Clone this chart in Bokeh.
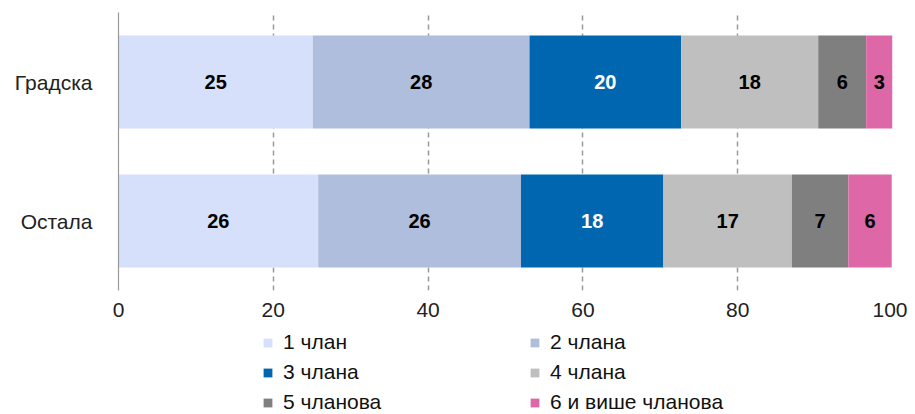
from bokeh.plotting import figure
from bokeh.models import ColumnDataSource, Legend, LegendItem, FactorRange, Range1d, FixedTicker
from bokeh.layouts import column
from bokeh.embed import file_html
from bokeh.resources import INLINE
from bokeh.core.properties import value

# ---- data ----
categories = ["Градска", "Остала"]
series_names = ["1 члан", "2 члана", "3 члана", "4 члана", "5 чланова", "6 и више чланова"]
gradska = [25.1, 28.0, 19.6, 17.7, 6.2, 3.4]
ostala = [25.8, 26.2, 18.4, 16.6, 7.3, 5.6]
x_ticks = [0, 20, 40, 60, 80, 100]

colors = ["#D7E0FA", "#AEBEDC", "#0066AF", "#BFBFBF", "#7F7F7F", "#DE67A8"]
label_colors = ["black", "black", "white", "black", "black", "black"]

FONT = "Liberation Sans"

p = figure(
    width=907, height=321,
    y_range=FactorRange(factors=list(reversed(categories)), range_padding=0),
    x_range=Range1d(0, 100),
    output_backend="svg", toolbar_location=None,
    min_border_left=118, min_border_right=15, min_border_top=12, min_border_bottom=31,
)
p.outline_line_color = None
p.ygrid.grid_line_color = None
p.xgrid.grid_line_color = "#999999"
p.xgrid.grid_line_width = 1.5
p.xgrid.grid_line_dash = "5 4"
p.xgrid.ticker = FixedTicker(ticks=x_ticks)
p.xaxis.ticker = FixedTicker(ticks=x_ticks)

p.xaxis.axis_line_color = None
p.xaxis.major_tick_line_color = None
p.xaxis.minor_tick_line_color = None
p.xaxis.major_label_text_font = FONT
p.xaxis.major_label_text_font_size = "21px"
p.xaxis.major_label_text_color = "#222222"
p.xaxis.major_label_standoff = 6

p.yaxis.axis_line_color = "#999999"
p.yaxis.axis_line_width = 1.2
p.yaxis.major_tick_line_color = None
p.yaxis.minor_tick_line_color = None
p.yaxis.major_label_text_font = FONT
p.yaxis.major_label_text_font_size = "21px"
p.yaxis.major_label_text_color = "#222222"
p.yaxis.major_label_standoff = 20

rows = {"Градска": gradska, "Остала": ostala}
for i, name in enumerate(series_names):
    lefts, rights, mids, texts = [], [], [], []
    for cat in categories:
        vals = rows[cat]
        l = sum(vals[:i])
        r = l + vals[i]
        lefts.append(l); rights.append(r); mids.append((l + r) / 2)
        texts.append(str(int(round(vals[i]))))
    src = ColumnDataSource(dict(y=categories, left=lefts, right=rights, mid=mids, txt=texts))
    p.hbar(y="y", left="left", right="right", height=0.67, source=src,
           fill_color=colors[i], line_color=None)
    p.text(x="mid", y="y", text="txt", source=src, text_align="center", text_baseline="middle",
           text_font=value(FONT), text_font_size="20px", text_font_style="bold",
           text_color=label_colors[i])

# ---- legend panel (separate figure below the chart) ----
lg = figure(width=907, height=93, x_range=Range1d(0, 1), y_range=Range1d(0, 1),
            x_axis_type=None, y_axis_type=None, output_backend="svg", toolbar_location=None,
            min_border=0)
lg.outline_line_color = None
lg.grid.visible = False
items = []
for i, name in enumerate(series_names):
    # zero-size swatch carriers: only their legend entries are visible
    rr = lg.hbar(y=[0], left=[0], right=[0], height=0, fill_color=colors[i], line_color=None)
    items.append(LegendItem(label=name, renderers=[rr]))

# column-major order so that rows read: 1 | 2, 3 | 4, 5 | 6
ordered = [items[k] for k in (0, 2, 4, 1, 3, 5)]
legend = Legend(items=ordered, orientation="vertical", ncols=2,
                label_text_font=FONT, label_text_font_size="21px", label_text_color="#111111",
                glyph_width=11, glyph_height=11, label_standoff=10, label_width=240,
                spacing=6, padding=0, margin=0, border_line_color=None,
                background_fill_alpha=0, label_height=20, location=(144, 0))
lg.add_layout(legend, "center")

layout = column(p, lg, spacing=0)
open("out.html", "w").write(file_html(layout, INLINE))
